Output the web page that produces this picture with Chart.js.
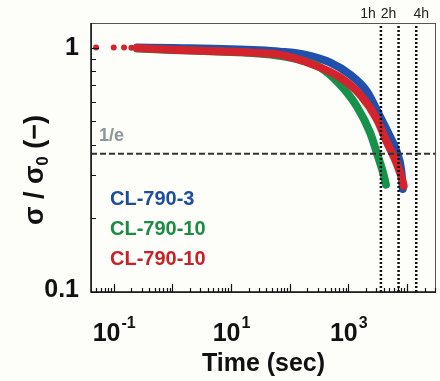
<!DOCTYPE html>
<html>
<head>
<meta charset="utf-8">
<script src="https://cdn.jsdelivr.net/npm/chart.js@4.4.1/dist/chart.umd.min.js"></script>
<style>
  html, body { margin: 0; padding: 0; background: #fdfdfa; }
  #wrap { width: 440px; height: 381px; }
</style>
</head>
<body>
<div id="wrap"><canvas id="chart" width="440" height="381"></canvas></div>
<script>
"use strict";

// axis limits (log scales)
const X_MIN = 0.041;
const X_MAX = 31300;
const Y_MIN = 0.1;
const Y_MAX = 1.26;
const ONE_OVER_E = 0.3679;

// series values
const seriesNames = ["CL-790-3", "CL-790-10", "CL-790-10"];

const blueTime = [0.25, 1, 10, 30, 68, 180, 485, 1060, 2080, 3460, 5130, 6750, 8000, 8500];
const blueValue = [1.0, 0.995, 0.985, 0.975, 0.962, 0.935, 0.869, 0.776, 0.661, 0.523, 0.433, 0.373, 0.315, 0.264];

const greenTime = [0.25, 1, 10, 30, 68, 150, 330, 720, 1400, 2340, 3200, 3900, 4380];
const greenValue = [0.99, 0.978, 0.958, 0.945, 0.925, 0.89, 0.83, 0.706, 0.574, 0.45, 0.359, 0.309, 0.275];

const redTime = [0.25, 1, 10, 30, 68, 250, 720, 1580, 3080, 4560, 6240, 8000, 8800];
const redValue = [0.995, 0.98, 0.962, 0.95, 0.935, 0.852, 0.755, 0.643, 0.508, 0.409, 0.349, 0.297, 0.272];

// first sparse readings of the red sample
const redStartTime = [0.05, 0.1, 0.15, 0.2];
const redStartValue = [1.0, 1.0, 1.0, 0.998];

// reference markers
const markerTimes = [3600, 7200, 14400];
const markerLabels = ["1h", "2h", "4h"];

// tick labels
const xLabelValues = [0.1, 10, 1000];
const xLabelExponents = ["-1", "1", "3"];
const yLabelValues = [0.1, 1];
const yLabelTexts = ["0.1", "1"];

const COLORS = {
  blue: "#1f50ad",
  green: "#17924a",
  red: "#d3232c",
  blueText: "#1d4d9c",
  greenText: "#1a8c44",
  redText: "#c7212a",
};

const FONT = '"Liberation Sans", Arial, sans-serif';

function toPoints(xs, ys) {
  return xs.map((x, i) => ({ x, y: ys[i] }));
}

function curve(label, xs, ys, color) {
  return {
    label,
    data: toPoints(xs, ys),
    showLine: true,
    borderColor: color,
    backgroundColor: color,
    borderWidth: 8,
    borderCapStyle: "round",
    borderJoinStyle: "round",
    cubicInterpolationMode: "monotone",
    pointRadius: 0,
    fill: false,
  };
}

const datasets = [
  {
    label: "1/e",
    data: [{ x: X_MIN, y: ONE_OVER_E }, { x: X_MAX, y: ONE_OVER_E }],
    showLine: true,
    borderColor: "#333",
    borderWidth: 2,
    borderDash: [6, 3],
    pointRadius: 0,
  },
  ...markerTimes.map((t, i) => ({
    label: markerLabels[i],
    data: [{ x: t, y: Y_MIN }, { x: t, y: Y_MAX }],
    showLine: true,
    borderColor: "#111",
    borderWidth: 2.5,
    borderDash: [2, 2],
    pointRadius: 0,
  })),
  {
    label: "red start",
    data: toPoints(redStartTime, redStartValue),
    showLine: false,
    pointRadius: 3,
    pointBorderWidth: 0,
    pointBackgroundColor: COLORS.red,
  },
  curve(seriesNames[2], redTime, redValue, COLORS.red),
  curve(seriesNames[1], greenTime, greenValue, COLORS.green),
  curve(seriesNames[0], blueTime, blueValue, COLORS.blue),
];

function tickKind(value) {
  const exp = Math.floor(Math.log10(value) + 1e-9);
  const mant = value / Math.pow(10, exp);
  const rounded = Math.round(mant);
  if (Math.abs(mant - rounded) > 1e-6 || rounded < 1 || rounded > 9) {
    return null;
  }
  return rounded === 1 ? "major" : "minor";
}

const figurePlugin = {
  id: "figure",
  beforeDraw(chart) {
    const { ctx } = chart;
    ctx.save();
    ctx.fillStyle = "#fdfdfa";
    ctx.fillRect(0, 0, chart.width, chart.height);
    ctx.restore();
  },
  afterDraw(chart) {
    const { ctx, chartArea: area } = chart;
    const xs = chart.scales.x;
    const ys = chart.scales.y;
    ctx.save();

    // frame
    ctx.strokeStyle = "#555";
    ctx.lineWidth = 1;
    ctx.strokeRect(area.left + 0.5, area.top + 0.5, area.width - 1, area.height);
    ctx.strokeStyle = "#111";
    ctx.lineWidth = 1.5;
    ctx.beginPath();
    ctx.moveTo(area.left, area.top);
    ctx.lineTo(area.left, area.bottom);
    ctx.lineTo(area.right, area.bottom);
    ctx.stroke();

    // inward ticks
    ctx.lineWidth = 1.2;
    ctx.beginPath();
    for (const tick of xs.ticks) {
      const kind = tickKind(tick.value);
      if (!kind || tick.value < X_MIN || tick.value > X_MAX) continue;
      const px = Math.round(xs.getPixelForValue(tick.value)) + 0.5;
      ctx.moveTo(px, area.bottom);
      ctx.lineTo(px, area.bottom - (kind === "major" ? 8 : 4));
    }
    for (const tick of ys.ticks) {
      const kind = tickKind(tick.value);
      if (!kind || tick.value < Y_MIN || tick.value > Y_MAX) continue;
      const py = Math.round(ys.getPixelForValue(tick.value)) + 0.5;
      ctx.moveTo(area.left, py);
      ctx.lineTo(area.left + (kind === "major" ? 8 : 5), py);
    }
    ctx.stroke();

    // y tick labels
    ctx.fillStyle = "#111";
    ctx.font = `bold 25px ${FONT}`;
    ctx.textAlign = "right";
    ctx.textBaseline = "middle";
    yLabelValues.forEach((v, i) => {
      const py = ys.getPixelForValue(v);
      ctx.fillText(yLabelTexts[i], area.left - 12, py + (v < 0.5 ? -2 : 1));
    });

    // x tick labels as powers of ten
    ctx.textAlign = "left";
    ctx.textBaseline = "alphabetic";
    xLabelValues.forEach((v, i) => {
      const px = xs.getPixelForValue(v);
      ctx.font = `bold 25px ${FONT}`;
      const baseW = ctx.measureText("10").width;
      ctx.font = `bold 16px ${FONT}`;
      const expW = ctx.measureText(xLabelExponents[i]).width;
      const start = px - (baseW + expW) / 2;
      ctx.font = `bold 25px ${FONT}`;
      ctx.fillText("10", start, 341);
      ctx.font = `bold 16px ${FONT}`;
      ctx.fillText(xLabelExponents[i], start + baseW + 1, 328);
    });

    // axis titles
    ctx.font = `bold 25px ${FONT}`;
    ctx.textAlign = "center";
    ctx.fillText("Time (sec)", (area.left + area.right) / 2, 371);

    ctx.save();
    ctx.translate(43, 170);
    ctx.rotate(-Math.PI / 2);
    const parts = [
      { text: "σ / σ", size: 27, dy: 0 },
      { text: "0", size: 17, dy: 5 },
      { text: " (−)", size: 27, dy: 0 },
    ];
    let total = 0;
    for (const part of parts) {
      ctx.font = `bold ${part.size}px ${FONT}`;
      part.w = ctx.measureText(part.text).width;
      total += part.w;
    }
    let cursor = -total / 2;
    ctx.textAlign = "left";
    for (const part of parts) {
      ctx.font = `bold ${part.size}px ${FONT}`;
      ctx.fillText(part.text, cursor, part.dy);
      cursor += part.w;
    }
    ctx.restore();

    // 1/e label
    ctx.font = `bold 18px ${FONT}`;
    ctx.fillStyle = "#8d949a";
    ctx.textAlign = "left";
    ctx.fillText("1/e", area.left + 8, ys.getPixelForValue(ONE_OVER_E) - 13);

    // hour labels above the frame
    const hourShift = [-13, -10, 5];
    ctx.font = `14px ${FONT}`;
    ctx.fillStyle = "#222";
    ctx.textAlign = "center";
    markerTimes.forEach((t, i) => {
      ctx.fillText(markerLabels[i], xs.getPixelForValue(t) + hourShift[i], 18);
    });

    // legend text
    const legendColors = [COLORS.blueText, COLORS.greenText, COLORS.redText];
    ctx.font = `bold 20px ${FONT}`;
    ctx.textAlign = "left";
    seriesNames.forEach((name, i) => {
      ctx.fillStyle = legendColors[i];
      ctx.fillText(name, area.left + 19, 205 + i * 30);
    });

    ctx.restore();
  },
};

new Chart(document.getElementById("chart"), {
  type: "scatter",
  data: { datasets },
  options: {
    responsive: false,
    animation: false,
    layout: {
      padding: { left: 91, top: 23, right: 4, bottom: 89 },
    },
    plugins: {
      legend: { display: false },
      tooltip: { enabled: false },
    },
    scales: {
      x: {
        type: "logarithmic",
        min: X_MIN,
        max: X_MAX,
        display: false,
        ticks: { autoSkip: false },
      },
      y: {
        type: "logarithmic",
        min: Y_MIN,
        max: Y_MAX,
        display: false,
        ticks: { autoSkip: false },
      },
    },
  },
  plugins: [figurePlugin],
});
</script>
</body>
</html>
